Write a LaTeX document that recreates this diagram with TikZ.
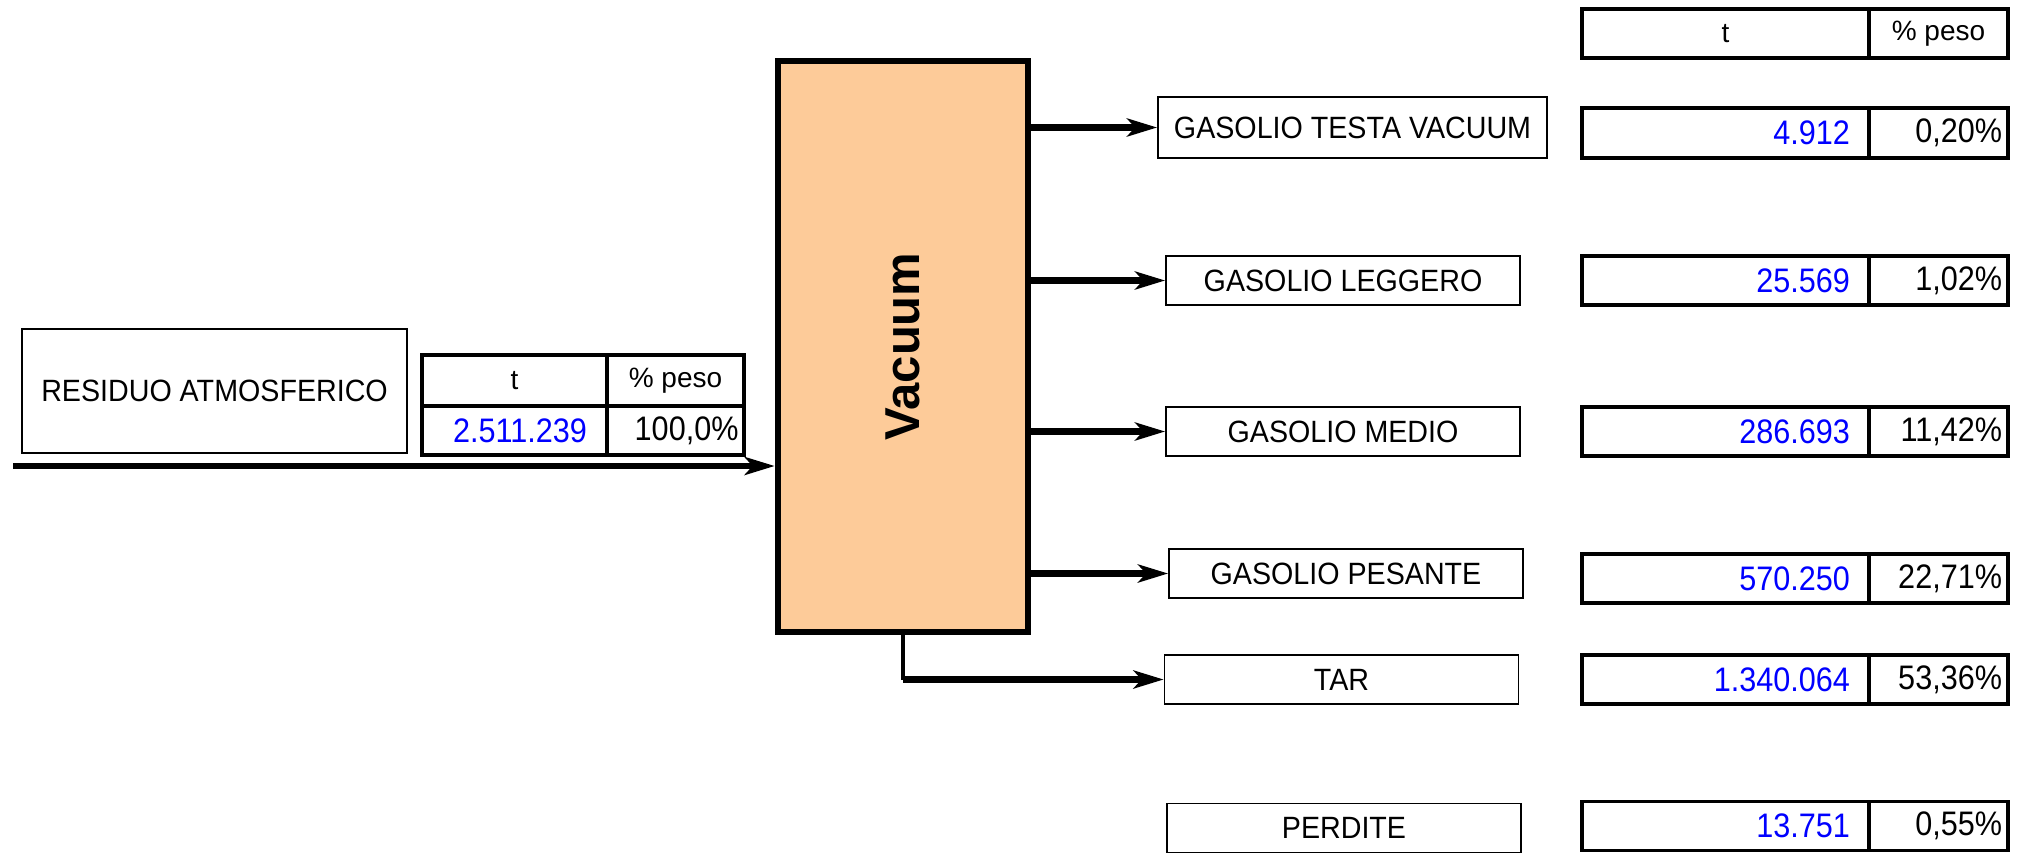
\documentclass[tikz,border=0pt]{standalone}
\usepackage{fontspec}
\setmainfont{Liberation Sans}
\newfontfamily\narrowfont[FakeStretch=0.93]{Liberation Sans}
\newfontfamily\numfont[FakeStretch=0.9]{Liberation Sans}
\usepackage{xcolor}
\usepackage{tikz}
\usetikzlibrary{arrows.meta, positioning}
\definecolor{vacpeach}{RGB}{253,203,153}
\definecolor{valblue}{RGB}{0,0,255}
\newcommand{\val}[1]{\textcolor{valblue}{#1}}

\begin{document}
\begin{tikzpicture}[x=0.5pt, y=-0.5pt,
    prod/.style={rectangle, draw, line width=0.9pt, minimum width=177pt,
                 minimum height=24.5pt, inner sep=0pt, font=\narrowfont\fontsize{15.4}{18}\selectfont},
    cell/.style={rectangle, draw, line width=1.8pt, minimum height=24.5pt, inner sep=0pt,
                 font=\numfont\fontsize{17}{20}\selectfont},
    tcell/.style={cell, minimum width=143.5pt, text width=124.5pt, align=right},
    pcell/.style={cell, minimum width=69.5pt, text width=63.5pt, align=right},
    head/.style={cell, font=\fontsize{14}{17}\selectfont, align=center},
    vacbox/.style={rectangle, draw, line width=3.3pt, fill=vacpeach,
                   minimum width=125pt, minimum height=285.5pt},
    flow/.style={line width=3.3pt, -{Stealth[length=15pt, width=9pt, inset=4pt]}}
]
\useasboundingbox (0,0) rectangle (2025,852);

% feed
\node[prod, minimum width=192.5pt, minimum height=62pt] (res) at (214.5,391) {RESIDUO ATMOSFERICO};
\node[head, minimum width=92.5pt, minimum height=25.5pt] (inT) at (514.5,380.5) {t};
\node[head, minimum width=68.5pt, minimum height=25.5pt] (inP) at (675.5,380.5) {\% peso};
\node[cell, minimum width=92.5pt, text width=72.5pt, align=right] (inV) at (514.5,430.5) {\val{2.511.239}};
\node[cell, minimum width=68.5pt, text width=63pt, align=right] (inQ) at (675.5,430.5) {100,0\%};

% column
\node[vacbox] (vac) at (903,346.5) {};
\node[rotate=90, font=\bfseries\fontsize{24.5}{29}\selectfont] (vacname) at (vac.center) {Vacuum};

\coordinate (feed) at (13,466);
\draw[flow] (feed) -- (feed -| vac.west);

% products
\node[prod, minimum width=194.5pt, minimum height=30.5pt] (gtv) at (1352.5,127.5) {GASOLIO TESTA VACUUM};
\node[prod] (gl) at (1343,280.5) {GASOLIO LEGGERO};
\node[prod] (gm) at (1343,431.5) {GASOLIO MEDIO};
\node[prod] (gp) at (1346,573.5) {GASOLIO PESANTE};
\node[prod] (tar) at (1341.5,679.5) {TAR};
\node[prod] (perd) at (1344,828) {PERDITE};

\draw[flow] (vac.east |- gtv) -- (gtv.west);
\draw[flow] (vac.east |- gl) -- (gl.west);
\draw[flow] (vac.east |- gm) -- (gm.west);
\draw[flow] (vac.east |- gp) -- (gp.west);
\draw[line width=1.8pt] (vac.south) -- (vac.south |- tar.west);
\draw[flow] (vac.south |- tar.west) -- (tar.west);

% yields
\node[head, minimum width=143.5pt] (hT) at (1725.5,33.5) {t};
\node[head, minimum width=69.5pt] (hP) at (1938.5,33.5) {\% peso};
\node[tcell, minimum height=25pt] (gtvT) at (1725.5,133) {\val{4.912}};
\node[pcell, minimum height=25pt] (gtvP) at (1938.5,133) {0,20\%};
\node[tcell] (glT) at (1725.5,280.5) {\val{25.569}};
\node[pcell] (glP) at (1938.5,280.5) {1,02\%};
\node[tcell] (gmT) at (1725.5,431.5) {\val{286.693}};
\node[pcell] (gmP) at (1938.5,431.5) {11,42\%};
\node[tcell] (gpT) at (1725.5,578.5) {\val{570.250}};
\node[pcell] (gpP) at (1938.5,578.5) {22,71\%};
\node[tcell] (tarT) at (1725.5,679.5) {\val{1.340.064}};
\node[pcell] (tarP) at (1938.5,679.5) {53,36\%};
\node[tcell] (perdT) at (1725.5,826) {\val{13.751}};
\node[pcell] (perdP) at (1938.5,826) {0,55\%};
\end{tikzpicture}
\end{document}
